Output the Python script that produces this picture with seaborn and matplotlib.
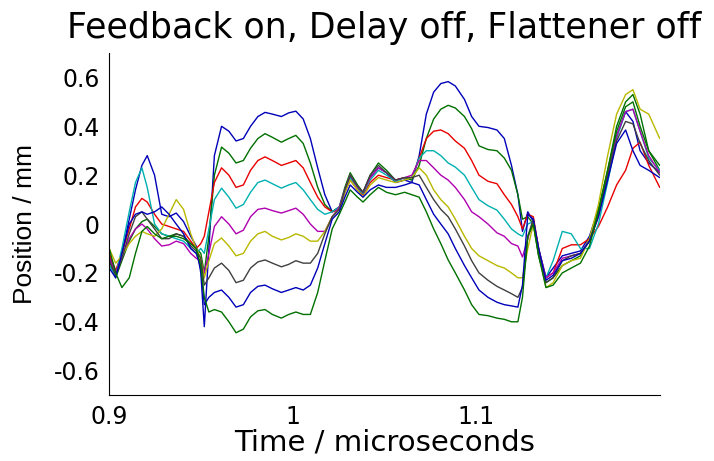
import matplotlib
matplotlib.use("Agg")
import matplotlib.pyplot as plt
import pandas as pd
import seaborn as sns

# ---------------- data ----------------
time_us = [
    0.900, 0.9035, 0.9069, 0.9109, 0.9143, 0.9178, 0.9207, 0.9247, 0.9286, 0.9326,
    0.9365, 0.9405, 0.9444, 0.9474, 0.9499, 0.9518, 0.9543, 0.9573, 0.9612, 0.9652,
    0.9691, 0.9731, 0.9770, 0.9810, 0.9849, 0.9889, 0.9938, 0.9978, 1.0017, 1.0057,
    1.0096, 1.0136, 1.0175, 1.0215, 1.0254, 1.0284, 1.0313, 1.0353, 1.0383, 1.0422,
    1.0467, 1.0511, 1.0560, 1.0610, 1.0649, 1.0689, 1.0728, 1.0768, 1.0807, 1.0847,
    1.0886, 1.0936, 1.0975, 1.1015, 1.1064, 1.1113, 1.1153, 1.1192, 1.1227, 1.1252,
    1.1281, 1.1311, 1.1340, 1.1380, 1.1419, 1.1469, 1.1518, 1.1568, 1.1617, 1.1666,
    1.1716, 1.1765, 1.1814, 1.1854, 1.1893, 1.1940, 1.2000]

blue_a = [
    -0.13, -0.20, -0.12, 0.02, 0.14, 0.24, 0.28, 0.20, 0.04, 0.03,
    0.045, 0.01, -0.05, -0.09, -0.20, -0.42, -0.10, 0.28, 0.40, 0.38,
    0.34, 0.35, 0.40, 0.44, 0.457, 0.45, 0.44, 0.455, 0.462, 0.43,
    0.35, 0.23, 0.12, 0.05, 0.07, 0.14, 0.19, 0.15, 0.13, 0.19,
    0.23, 0.21, 0.17, 0.18, 0.17, 0.28, 0.45, 0.54, 0.575, 0.583,
    0.565, 0.51, 0.44, 0.40, 0.395, 0.385, 0.35, 0.24, 0.12, -0.03,
    0.05, 0.01, -0.12, -0.22, -0.18, -0.13, -0.12, -0.11, -0.05, 0.06,
    0.20, 0.36, 0.46, 0.42, 0.30, 0.25, 0.21]

green_a = [
    -0.15, -0.22, -0.15, -0.07, -0.02, 0.01, 0.02, -0.01, -0.04, -0.05,
    -0.04, -0.05, -0.08, -0.10, -0.12, -0.20, -0.05, 0.20, 0.315, 0.29,
    0.25, 0.26, 0.31, 0.35, 0.37, 0.355, 0.335, 0.35, 0.363, 0.33,
    0.25, 0.15, 0.08, 0.05, 0.07, 0.15, 0.21, 0.16, 0.13, 0.20,
    0.25, 0.22, 0.18, 0.19, 0.18, 0.24, 0.35, 0.43, 0.47, 0.486,
    0.475, 0.44, 0.39, 0.32, 0.305, 0.30, 0.27, 0.22, 0.12, 0.02,
    0.03, 0.00, -0.13, -0.24, -0.22, -0.17, -0.15, -0.13, -0.06, 0.06,
    0.22, 0.40, 0.50, 0.53, 0.45, 0.30, 0.22]

red = [
    -0.12, -0.19, -0.12, -0.02, 0.07, 0.105, 0.09, 0.04, 0.00, -0.01,
    -0.02, -0.03, -0.07, -0.10, -0.08, -0.05, 0.05, 0.17, 0.23, 0.20,
    0.15, 0.16, 0.22, 0.26, 0.275, 0.26, 0.24, 0.25, 0.26, 0.23,
    0.17, 0.11, 0.07, 0.05, 0.06, 0.13, 0.18, 0.14, 0.12, 0.17,
    0.20, 0.19, 0.18, 0.19, 0.19, 0.27, 0.35, 0.38, 0.385, 0.37,
    0.34, 0.31, 0.26, 0.20, 0.175, 0.165, 0.12, 0.08, 0.03, -0.02,
    0.04, 0.03, -0.10, -0.22, -0.20, -0.10, -0.085, -0.085, -0.06, -0.01,
    0.07, 0.16, 0.22, 0.31, 0.335, 0.24, 0.15]

cyan = [
    -0.17, -0.21, -0.10, 0.05, 0.17, 0.23, 0.15, 0.00, -0.04, -0.05,
    -0.06, -0.07, -0.10, -0.12, -0.10, -0.12, -0.02, 0.10, 0.147, 0.11,
    0.065, 0.08, 0.13, 0.17, 0.18, 0.165, 0.147, 0.16, 0.17, 0.14,
    0.10, 0.06, 0.04, 0.05, 0.07, 0.14, 0.19, 0.145, 0.125, 0.18,
    0.22, 0.20, 0.175, 0.19, 0.19, 0.27, 0.30, 0.30, 0.28, 0.25,
    0.233, 0.20, 0.15, 0.10, 0.075, 0.057, 0.02, -0.02, -0.04, -0.05,
    0.00, 0.01, -0.10, -0.22, -0.15, -0.03, -0.04, -0.10, -0.10, 0.00,
    0.17, 0.35, 0.46, 0.47, 0.38, 0.27, 0.22]

magenta = [
    -0.14, -0.20, -0.14, -0.06, -0.02, 0.00, -0.02, -0.06, -0.09, -0.085,
    -0.07, -0.08, -0.12, -0.14, -0.15, -0.20, -0.12, -0.01, 0.03, 0.00,
    -0.04, -0.025, 0.03, 0.06, 0.065, 0.055, 0.045, 0.055, 0.065, 0.04,
    0.00, -0.03, -0.03, 0.03, 0.07, 0.14, 0.20, 0.15, 0.13, 0.19,
    0.23, 0.21, 0.18, 0.19, 0.20, 0.26, 0.26, 0.23, 0.20, 0.18,
    0.15, 0.10, 0.05, 0.03, 0.00, -0.036, -0.05, -0.08, -0.09, -0.135,
    -0.06, 0.02, -0.10, -0.22, -0.20, -0.14, -0.13, -0.12, -0.07, 0.03,
    0.20, 0.36, 0.46, 0.47, 0.38, 0.28, 0.21]

yellow = [
    -0.10, -0.16, -0.13, -0.08, -0.05, -0.03, -0.04, -0.05, -0.02, 0.04,
    0.10, 0.06, -0.04, -0.10, -0.14, -0.22, -0.15, -0.08, -0.057, -0.09,
    -0.13, -0.12, -0.07, -0.04, -0.03, -0.05, -0.065, -0.055, -0.04, -0.05,
    -0.07, -0.07, -0.03, 0.03, 0.06, 0.13, 0.18, 0.14, 0.11, 0.16,
    0.19, 0.18, 0.17, 0.18, 0.19, 0.23, 0.20, 0.14, 0.10, 0.07,
    0.02, -0.05, -0.10, -0.13, -0.15, -0.17, -0.18, -0.20, -0.22, -0.22,
    -0.10, 0.00, -0.12, -0.26, -0.24, -0.17, -0.15, -0.14, -0.06, 0.08,
    0.28, 0.45, 0.53, 0.55, 0.47, 0.45, 0.35]

gray = [
    -0.15, -0.21, -0.14, -0.04, 0.03, 0.05, 0.02, -0.02, -0.06, -0.06,
    -0.04, -0.05, -0.09, -0.11, -0.14, -0.25, -0.22, -0.18, -0.16, -0.19,
    -0.24, -0.23, -0.18, -0.155, -0.147, -0.16, -0.175, -0.165, -0.15, -0.16,
    -0.16, -0.12, -0.04, 0.03, 0.06, 0.14, 0.20, 0.155, 0.13, 0.20,
    0.24, 0.21, 0.18, 0.19, 0.19, 0.20, 0.15, 0.10, 0.06, 0.03,
    -0.02, -0.09, -0.15, -0.20, -0.23, -0.255, -0.27, -0.285, -0.30, -0.26,
    -0.05, 0.02, -0.12, -0.24, -0.22, -0.15, -0.13, -0.12, -0.07, 0.04,
    0.20, 0.34, 0.42, 0.41, 0.33, 0.26, 0.20]

blue_b = [
    -0.18, -0.22, -0.12, 0.00, 0.04, 0.05, 0.04, 0.05, 0.07, 0.04,
    0.00, -0.04, -0.10, -0.12, -0.18, -0.33, -0.30, -0.28, -0.27, -0.30,
    -0.34, -0.33, -0.28, -0.255, -0.25, -0.265, -0.28, -0.27, -0.26, -0.27,
    -0.25, -0.18, -0.08, 0.02, 0.05, 0.11, 0.16, 0.13, 0.11, 0.14,
    0.16, 0.15, 0.15, 0.16, 0.17, 0.16, 0.10, 0.04, 0.00, -0.04,
    -0.10, -0.17, -0.22, -0.27, -0.30, -0.32, -0.33, -0.335, -0.34, -0.25,
    0.04, 0.02, -0.10, -0.23, -0.21, -0.15, -0.14, -0.12, -0.07, 0.03,
    0.18, 0.33, 0.385, 0.30, 0.24, 0.22, 0.19]

green_b = [
    -0.10, -0.20, -0.26, -0.22, -0.12, -0.03, -0.01, -0.04, -0.06, -0.05,
    -0.05, -0.06, -0.08, -0.10, -0.17, -0.30, -0.36, -0.35, -0.36, -0.40,
    -0.445, -0.43, -0.38, -0.355, -0.35, -0.37, -0.385, -0.37, -0.36, -0.37,
    -0.37, -0.28, -0.15, -0.02, 0.04, 0.09, 0.14, 0.11, 0.09, 0.12,
    0.15, 0.13, 0.12, 0.13, 0.12, 0.11, 0.05, -0.02, -0.08, -0.147,
    -0.20, -0.27, -0.33, -0.37, -0.375, -0.385, -0.39, -0.40, -0.40, -0.30,
    -0.05, 0.00, -0.13, -0.26, -0.25, -0.20, -0.18, -0.16, -0.09, 0.05,
    0.22, 0.38, 0.48, 0.50, 0.40, 0.30, 0.24]

series_names = ["blue_a", "green_a", "red", "cyan", "magenta",
                "yellow", "gray", "blue_b", "green_b"]
series_values = [blue_a, green_a, red, cyan, magenta, yellow, gray, blue_b, green_b]
line_colors = ["#0000b8", "#007000", "#e80000", "#00b0b0", "#b000b0",
               "#b8b800", "#404040", "#0000b8", "#007000"]

xtick_vals = [0.9, 1.0, 1.1]
xtick_labels = ["0.9", "1", "1.1"]
ytick_vals = [-0.6, -0.4, -0.2, 0.0, 0.2, 0.4, 0.6]
ytick_labels = ["-0.6", "-0.4", "-0.2", "0", "0.2", "0.4", "0.6"]

# ---------------- build long table ----------------
frames = []
for name, vals in zip(series_names, series_values):
    frames.append(pd.DataFrame({"time": time_us, "pos": vals, "trace": name}))
df = pd.concat(frames, ignore_index=True)

sns.set_theme(style="white")
plt.rcParams["font.family"] = ["DejaVu Sans"]

fig = plt.figure(figsize=(7.14, 4.61), dpi=100)
ax = fig.add_axes([0.153, 0.143, 0.771, 0.742])

sns.lineplot(data=df, x="time", y="pos", hue="trace",
             hue_order=series_names,
             palette=dict(zip(series_names, line_colors)),
             estimator=None, sort=False, legend=False,
             linewidth=1.0, ax=ax)

ax.set_xlim(0.9, 1.2)
ax.set_ylim(-0.7, 0.7)
ax.set_xticks(xtick_vals)
ax.set_xticklabels(xtick_labels)
ax.set_yticks(ytick_vals)
ax.set_yticklabels(ytick_labels)

sns.despine(ax=ax)
for side in ["left", "bottom"]:
    ax.spines[side].set_color("black")
    ax.spines[side].set_linewidth(0.8)

ax.tick_params(axis="both", direction="in", length=4, width=0.8,
               color="black", labelcolor="black", labelsize=17, pad=7)

ax.set_title("Feedback on, Delay off, Flattener off", fontsize=25,
             pad=11, color="black")
ax.set_xlabel("Time / microseconds", fontsize=21, color="black", labelpad=0)
ax.set_ylabel("Position / mm", fontsize=19, color="black", labelpad=12,
              family=["Liberation Sans", "DejaVu Sans"])

fig.savefig("out.png", dpi=100, facecolor="white")
